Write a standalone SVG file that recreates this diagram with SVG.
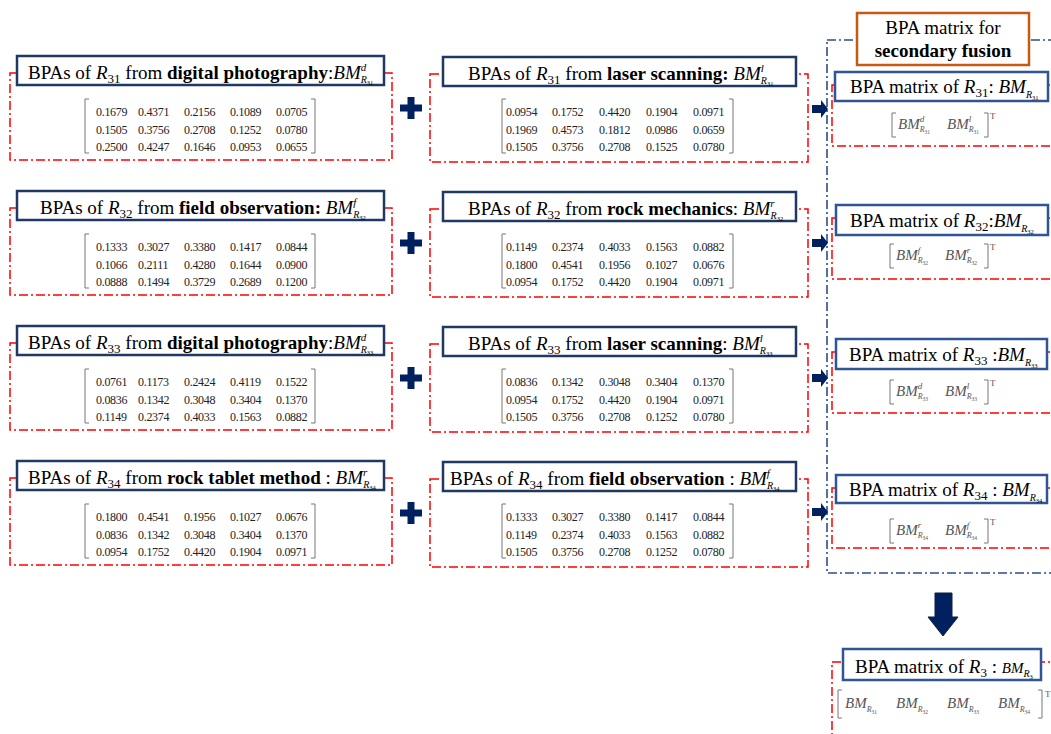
<svg xmlns="http://www.w3.org/2000/svg" width="1051" height="734" viewBox="0 0 1051 734">
<style>
.rd{fill:none;stroke:#FF0000;stroke-width:1.5;stroke-dasharray:9 3 2 3}
.bd{fill:none;stroke:#2E4D8C;stroke-width:1.6;stroke-dasharray:9 3 2 3}
.tb{fill:#fff;stroke:#1F3864;stroke-width:2.5}
.nb{fill:#fff;stroke:#2F5597;stroke-width:2.5}
.ob{fill:#fff;stroke:#C55A11;stroke-width:2.5}
.t{font-family:"Liberation Serif",serif;font-size:19px;fill:#000}
.b{font-weight:bold}
.i{font-style:italic}
.s{font-size:13px}
.sp{font-size:11px;font-style:italic}
.sb{font-size:10px;font-style:italic}
.ss{font-size:6.5px}
.n{font-family:"Liberation Serif",serif;font-size:12px;letter-spacing:-0.3px;fill:#222}
.br{fill:none;stroke:#666;stroke-width:0.9}
.g{font-family:"Liberation Serif",serif;font-size:15px;font-style:italic;fill:#555}
.gsp{font-size:9px}
.gsb{font-size:8px}
.gss{font-size:5.5px;font-style:normal}
.gt{font-family:"Liberation Serif",serif;font-size:9px;fill:#555}
.ar{fill:#002060}
</style>

<!-- big secondary fusion frame -->
<g id="fusion-frame">
<rect class="bd" x="827" y="40" width="240" height="533"/>
</g>

<!-- Row 1 -->
<g id="r31-dp">
<rect class="rd" x="10" y="73" width="382" height="87"/>
<rect class="tb" x="17" y="56" width="367" height="29"/>
<text class="t" x="28" y="79">BPAs of <tspan class="i">R</tspan><tspan class="s" dy="4">31</tspan><tspan dy="-4"> from </tspan><tspan class="b">digital photography</tspan>:<tspan class="i">BM</tspan><tspan class="sp" dy="-8">d</tspan><tspan class="sb" dx="-5.5" dy="12">R</tspan><tspan class="ss" dy="2">31</tspan></text>
<path class="br" d="M89,99H85V153H89M311,99H315V153H311"/>
<text class="n" y="116"><tspan x="96">0.1679</tspan><tspan x="138">0.4371</tspan><tspan x="184">0.2156</tspan><tspan x="230">0.1089</tspan><tspan x="276">0.0705</tspan></text>
<text class="n" y="134"><tspan x="96">0.1505</tspan><tspan x="138">0.3756</tspan><tspan x="184">0.2708</tspan><tspan x="230">0.1252</tspan><tspan x="276">0.0780</tspan></text>
<text class="n" y="151"><tspan x="96">0.2500</tspan><tspan x="138">0.4247</tspan><tspan x="184">0.1646</tspan><tspan x="230">0.0953</tspan><tspan x="276">0.0655</tspan></text>
</g>
<g id="r31-ls">
<rect class="rd" x="430" y="74" width="378" height="88"/>
<rect class="tb" x="443" y="57" width="353" height="29"/>
<text class="t" x="468" y="80">BPAs of <tspan class="i">R</tspan><tspan class="s" dy="4">31</tspan><tspan dy="-4"> from </tspan><tspan class="b">laser scanning:</tspan>  <tspan class="i">BM</tspan><tspan class="sp" dy="-8">l</tspan><tspan class="sb" dx="-3" dy="12">R</tspan><tspan class="ss" dy="2">31</tspan></text>
<path class="br" d="M506,99H502V153H506M729,99H733V153H729"/>
<text class="n" y="116"><tspan x="506">0.0954</tspan><tspan x="552">0.1752</tspan><tspan x="599">0.4420</tspan><tspan x="646">0.1904</tspan><tspan x="693">0.0971</tspan></text>
<text class="n" y="134"><tspan x="506">0.1969</tspan><tspan x="552">0.4573</tspan><tspan x="599">0.1812</tspan><tspan x="646">0.0986</tspan><tspan x="693">0.0659</tspan></text>
<text class="n" y="151"><tspan x="506">0.1505</tspan><tspan x="552">0.3756</tspan><tspan x="599">0.2708</tspan><tspan x="646">0.1525</tspan><tspan x="693">0.0780</tspan></text>
</g>

<!-- Row 2 -->
<g id="r32-fo">
<rect class="rd" x="10" y="208" width="382" height="87"/>
<rect class="tb" x="17" y="191" width="367" height="29"/>
<text class="t" x="40" y="214">BPAs of <tspan class="i">R</tspan><tspan class="s" dy="4">32</tspan><tspan dy="-4"> from </tspan><tspan class="b">field observation:</tspan> <tspan class="i">BM</tspan><tspan class="sp" dy="-8">f</tspan><tspan class="sb" dx="-3" dy="12">R</tspan><tspan class="ss" dy="2">32</tspan></text>
<path class="br" d="M89,234H85V288H89M311,234H315V288H311"/>
<text class="n" y="251"><tspan x="96">0.1333</tspan><tspan x="138">0.3027</tspan><tspan x="184">0.3380</tspan><tspan x="230">0.1417</tspan><tspan x="276">0.0844</tspan></text>
<text class="n" y="269"><tspan x="96">0.1066</tspan><tspan x="138">0.2111</tspan><tspan x="184">0.4280</tspan><tspan x="230">0.1644</tspan><tspan x="276">0.0900</tspan></text>
<text class="n" y="286"><tspan x="96">0.0888</tspan><tspan x="138">0.1494</tspan><tspan x="184">0.3729</tspan><tspan x="230">0.2689</tspan><tspan x="276">0.1200</tspan></text>
</g>
<g id="r32-rm">
<rect class="rd" x="430" y="209" width="378" height="88"/>
<rect class="tb" x="443" y="192" width="353" height="29"/>
<text class="t" x="468" y="215">BPAs of <tspan class="i">R</tspan><tspan class="s" dy="4">32</tspan><tspan dy="-4"> from </tspan><tspan class="b">rock mechanics</tspan>: <tspan class="i">BM</tspan><tspan class="sp" dy="-8">r</tspan><tspan class="sb" dx="-4" dy="12">R</tspan><tspan class="ss" dy="2">32</tspan></text>
<path class="br" d="M506,234H502V288H506M729,234H733V288H729"/>
<text class="n" y="251"><tspan x="506">0.1149</tspan><tspan x="552">0.2374</tspan><tspan x="599">0.4033</tspan><tspan x="646">0.1563</tspan><tspan x="693">0.0882</tspan></text>
<text class="n" y="269"><tspan x="506">0.1800</tspan><tspan x="552">0.4541</tspan><tspan x="599">0.1956</tspan><tspan x="646">0.1027</tspan><tspan x="693">0.0676</tspan></text>
<text class="n" y="286"><tspan x="506">0.0954</tspan><tspan x="552">0.1752</tspan><tspan x="599">0.4420</tspan><tspan x="646">0.1904</tspan><tspan x="693">0.0971</tspan></text>
</g>

<!-- Row 3 -->
<g id="r33-dp">
<rect class="rd" x="10" y="343" width="382" height="87"/>
<rect class="tb" x="17" y="326" width="367" height="29"/>
<text class="t" x="28" y="349">BPAs of <tspan class="i">R</tspan><tspan class="s" dy="4">33</tspan><tspan dy="-4"> from </tspan><tspan class="b">digital photography</tspan>:<tspan class="i">BM</tspan><tspan class="sp" dy="-8">d</tspan><tspan class="sb" dx="-5.5" dy="12">R</tspan><tspan class="ss" dy="2">33</tspan></text>
<path class="br" d="M89,369H85V423H89M311,369H315V423H311"/>
<text class="n" y="386"><tspan x="96">0.0761</tspan><tspan x="138">0.1173</tspan><tspan x="184">0.2424</tspan><tspan x="230">0.4119</tspan><tspan x="276">0.1522</tspan></text>
<text class="n" y="404"><tspan x="96">0.0836</tspan><tspan x="138">0.1342</tspan><tspan x="184">0.3048</tspan><tspan x="230">0.3404</tspan><tspan x="276">0.1370</tspan></text>
<text class="n" y="421"><tspan x="96">0.1149</tspan><tspan x="138">0.2374</tspan><tspan x="184">0.4033</tspan><tspan x="230">0.1563</tspan><tspan x="276">0.0882</tspan></text>
</g>
<g id="r33-ls">
<rect class="rd" x="430" y="344" width="378" height="88"/>
<rect class="tb" x="443" y="327" width="353" height="29"/>
<text class="t" x="468" y="350">BPAs of <tspan class="i">R</tspan><tspan class="s" dy="4">33</tspan><tspan dy="-4"> from </tspan><tspan class="b">laser scanning</tspan>: <tspan class="i">BM</tspan><tspan class="sp" dy="-8">l</tspan><tspan class="sb" dx="-3" dy="12">R</tspan><tspan class="ss" dy="2">33</tspan></text>
<path class="br" d="M506,369H502V423H506M729,369H733V423H729"/>
<text class="n" y="386"><tspan x="506">0.0836</tspan><tspan x="552">0.1342</tspan><tspan x="599">0.3048</tspan><tspan x="646">0.3404</tspan><tspan x="693">0.1370</tspan></text>
<text class="n" y="404"><tspan x="506">0.0954</tspan><tspan x="552">0.1752</tspan><tspan x="599">0.4420</tspan><tspan x="646">0.1904</tspan><tspan x="693">0.0971</tspan></text>
<text class="n" y="421"><tspan x="506">0.1505</tspan><tspan x="552">0.3756</tspan><tspan x="599">0.2708</tspan><tspan x="646">0.1252</tspan><tspan x="693">0.0780</tspan></text>
</g>

<!-- Row 4 -->
<g id="r34-rt">
<rect class="rd" x="10" y="478" width="382" height="87"/>
<rect class="tb" x="17" y="461" width="367" height="29"/>
<text class="t" x="28" y="484">BPAs of <tspan class="i">R</tspan><tspan class="s" dy="4">34</tspan><tspan dy="-4"> from </tspan><tspan class="b">rock tablet method</tspan> : <tspan class="i">BM</tspan><tspan class="sp" dy="-8">r</tspan><tspan class="sb" dx="-4" dy="12">R</tspan><tspan class="ss" dy="2">34</tspan></text>
<path class="br" d="M89,504H85V558H89M311,504H315V558H311"/>
<text class="n" y="521"><tspan x="96">0.1800</tspan><tspan x="138">0.4541</tspan><tspan x="184">0.1956</tspan><tspan x="230">0.1027</tspan><tspan x="276">0.0676</tspan></text>
<text class="n" y="539"><tspan x="96">0.0836</tspan><tspan x="138">0.1342</tspan><tspan x="184">0.3048</tspan><tspan x="230">0.3404</tspan><tspan x="276">0.1370</tspan></text>
<text class="n" y="556"><tspan x="96">0.0954</tspan><tspan x="138">0.1752</tspan><tspan x="184">0.4420</tspan><tspan x="230">0.1904</tspan><tspan x="276">0.0971</tspan></text>
</g>
<g id="r34-fo">
<rect class="rd" x="430" y="479" width="378" height="88"/>
<rect class="tb" x="443" y="462" width="353" height="29"/>
<text class="t" x="450" y="485">BPAs of <tspan class="i">R</tspan><tspan class="s" dy="4">34</tspan><tspan dy="-4"> from </tspan><tspan class="b">field observation</tspan> : <tspan class="i">BM</tspan><tspan class="sp" dy="-8">f</tspan><tspan class="sb" dx="-3" dy="12">R</tspan><tspan class="ss" dy="2">34</tspan></text>
<path class="br" d="M506,504H502V558H506M729,504H733V558H729"/>
<text class="n" y="521"><tspan x="506">0.1333</tspan><tspan x="552">0.3027</tspan><tspan x="599">0.3380</tspan><tspan x="646">0.1417</tspan><tspan x="693">0.0844</tspan></text>
<text class="n" y="539"><tspan x="506">0.1149</tspan><tspan x="552">0.2374</tspan><tspan x="599">0.4033</tspan><tspan x="646">0.1563</tspan><tspan x="693">0.0882</tspan></text>
<text class="n" y="556"><tspan x="506">0.1505</tspan><tspan x="552">0.3756</tspan><tspan x="599">0.2708</tspan><tspan x="646">0.1252</tspan><tspan x="693">0.0780</tspan></text>
</g>

<!-- secondary fusion title -->
<g id="fusion-title">
<rect class="ob" x="857" y="13" width="172" height="52"/>
<text class="t" x="943" y="34" text-anchor="middle">BPA matrix for</text>
<text class="t b" x="943" y="57" text-anchor="middle">secondary fusion</text>
</g>

<!-- fused nodes -->
<g id="bm-r31">
<rect class="rd" x="832" y="85" width="240" height="61"/>
<rect class="nb" x="835" y="72" width="213" height="29"/>
<text class="t" x="850" y="93">BPA matrix of <tspan class="i">R</tspan><tspan class="s" dy="4">31</tspan><tspan dy="-4">: </tspan><tspan class="i">BM</tspan><tspan class="sb" dy="5">R</tspan><tspan class="ss" dy="2">31</tspan></text>
<path class="br" d="M896,113H892V137H896M984,113H988V137H984"/>
<text class="g" x="898" y="129">BM<tspan class="gsp" dy="-7">d</tspan><tspan class="gsb" dx="-4.5" dy="10">R</tspan><tspan class="gss" dy="1.5">31</tspan></text>
<text class="g" x="947" y="129">BM<tspan class="gsp" dy="-7">l</tspan><tspan class="gsb" dx="-2.5" dy="10">R</tspan><tspan class="gss" dy="1.5">31</tspan></text>
<text class="gt" x="990" y="119">T</text>
</g>
<g id="bm-r32">
<rect class="rd" x="832" y="218" width="240" height="61"/>
<rect class="nb" x="836" y="205" width="212" height="30"/>
<text class="t" x="850" y="227">BPA matrix of <tspan class="i">R</tspan><tspan class="s" dy="4">32</tspan><tspan dy="-4">:</tspan><tspan class="i">BM</tspan><tspan class="sb" dy="5">R</tspan><tspan class="ss" dy="2">32</tspan></text>
<path class="br" d="M894,244H890V268H894M984,244H988V268H984"/>
<text class="g" x="896" y="260">BM<tspan class="gsp" dy="-7">f</tspan><tspan class="gsb" dx="-2.5" dy="10">R</tspan><tspan class="gss" dy="1.5">32</tspan></text>
<text class="g" x="945" y="260">BM<tspan class="gsp" dy="-7">r</tspan><tspan class="gsb" dx="-3.5" dy="10">R</tspan><tspan class="gss" dy="1.5">32</tspan></text>
<text class="gt" x="990" y="250">T</text>
</g>
<g id="bm-r33">
<rect class="rd" x="832" y="352" width="240" height="61"/>
<rect class="nb" x="836" y="339" width="211" height="30"/>
<text class="t" x="849" y="361">BPA matrix of <tspan class="i">R</tspan><tspan class="s" dy="4">33</tspan><tspan dy="-4"> :</tspan><tspan class="i">BM</tspan><tspan class="sb" dy="5">R</tspan><tspan class="ss" dy="2">33</tspan></text>
<path class="br" d="M894,380H890V404H894M984,380H988V404H984"/>
<text class="g" x="896" y="396">BM<tspan class="gsp" dy="-7">d</tspan><tspan class="gsb" dx="-4.5" dy="10">R</tspan><tspan class="gss" dy="1.5">33</tspan></text>
<text class="g" x="945" y="396">BM<tspan class="gsp" dy="-7">l</tspan><tspan class="gsb" dx="-2.5" dy="10">R</tspan><tspan class="gss" dy="1.5">33</tspan></text>
<text class="gt" x="990" y="386">T</text>
</g>
<g id="bm-r34">
<rect class="rd" x="832" y="488" width="240" height="60"/>
<rect class="nb" x="836" y="475" width="211" height="28"/>
<text class="t" x="849" y="496">BPA matrix of <tspan class="i">R</tspan><tspan class="s" dy="4">34</tspan><tspan dy="-4"> : </tspan><tspan class="i">BM</tspan><tspan class="sb" dy="5">R</tspan><tspan class="ss" dy="2">34</tspan></text>
<path class="br" d="M894,519H890V543H894M984,519H988V543H984"/>
<text class="g" x="896" y="535">BM<tspan class="gsp" dy="-7">r</tspan><tspan class="gsb" dx="-3.5" dy="10">R</tspan><tspan class="gss" dy="1.5">34</tspan></text>
<text class="g" x="945" y="535">BM<tspan class="gsp" dy="-7">f</tspan><tspan class="gsb" dx="-2.5" dy="10">R</tspan><tspan class="gss" dy="1.5">34</tspan></text>
<text class="gt" x="990" y="525">T</text>
</g>
<g id="bm-r3">
<rect class="rd" x="832" y="662" width="240" height="100"/>
<rect class="nb" x="843" y="649" width="198" height="31"/>
<text class="t" x="855" y="673">BPA matrix of <tspan class="i">R</tspan><tspan class="s" dy="4">3</tspan><tspan dy="-4"> : </tspan><tspan class="i" font-size="15">BM</tspan><tspan class="sb" dy="4">R</tspan><tspan class="ss" dy="2">3</tspan></text>
<path class="br" d="M842,690H838V718H842M1038,690H1042V718H1038"/>
<text class="g" x="845" y="708">BM<tspan class="gsb" dy="4">R</tspan><tspan class="gss" dy="1.5">31</tspan></text>
<text class="g" x="896" y="708">BM<tspan class="gsb" dy="4">R</tspan><tspan class="gss" dy="1.5">32</tspan></text>
<text class="g" x="947" y="708">BM<tspan class="gsb" dy="4">R</tspan><tspan class="gss" dy="1.5">33</tspan></text>
<text class="g" x="998" y="708">BM<tspan class="gsb" dy="4">R</tspan><tspan class="gss" dy="1.5">34</tspan></text>
<text class="gt" x="1045" y="697">T</text>
</g>

<!-- connectors: plus signs and arrows -->
<g id="connectors">
<path class="ar" d="M407.5,97h7v7.5h7.5v7h-7.5v7.5h-7v-7.5h-7.5v-7h7.5z"/>
<path class="ar" d="M407.5,232h7v7.5h7.5v7h-7.5v7.5h-7v-7.5h-7.5v-7h7.5z"/>
<path class="ar" d="M407.5,367h7v7.5h7.5v7h-7.5v7.5h-7v-7.5h-7.5v-7h7.5z"/>
<path class="ar" d="M407.5,502h7v7.5h7.5v7h-7.5v7.5h-7v-7.5h-7.5v-7h7.5z"/>
<path class="ar" d="M812,105h9v-5l7,9l-7,9v-5h-9z"/>
<path class="ar" d="M812,239h9v-5l7,9l-7,9v-5h-9z"/>
<path class="ar" d="M812,374h9v-5l7,9l-7,9v-5h-9z"/>
<path class="ar" d="M812,508h9v-5l7,9l-7,9v-5h-9z"/>
<path class="ar" stroke="#0F1F3D" stroke-width="1" d="M935,593h17v24h6l-15,19l-15,-19h7z"/>
</g>
</svg>
